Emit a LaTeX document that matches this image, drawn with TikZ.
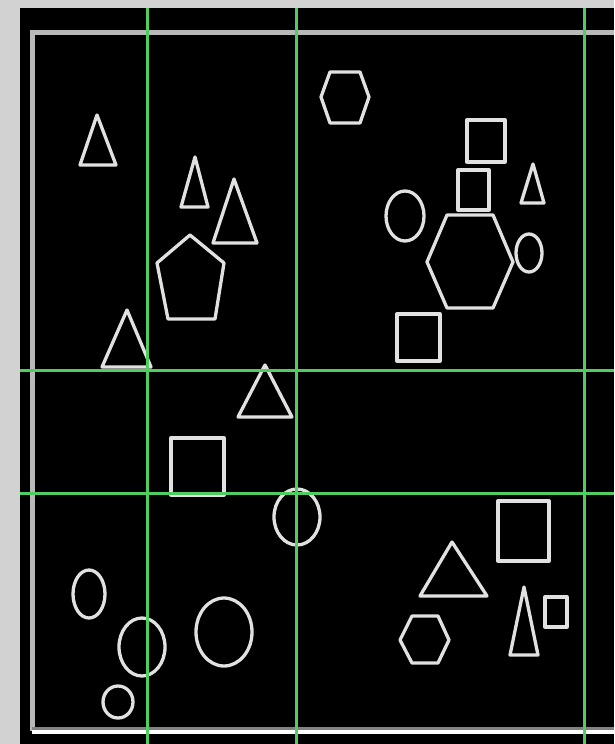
\documentclass[tikz,border=0pt]{standalone}
\definecolor{bggray}{RGB}{210,210,210}
\definecolor{framegray}{RGB}{185,185,185}
\definecolor{shapewhite}{RGB}{225,225,225}
\definecolor{gridgreen}{RGB}{80,205,95}
\begin{document}
\begin{tikzpicture}[x=1pt,y=-1pt,
  shp/.style={draw=shapewhite, line width=3.3pt, line join=round},
  gridline/.style={draw=gridgreen, line width=3pt}]
\useasboundingbox (0,0) rectangle (614,744);
\fill[bggray] (0,0) rectangle (614,744);
\fill[black] (20,8) rectangle (614,744);
% frame
\draw[framegray, line width=5pt] (614,32) -- (32,32) -- (32,731);
\draw[framegray!70!black, line width=6pt] (32,729.5) -- (614,729.5);
\draw[white, line width=4pt] (32,731.5) -- (614,731.5);
% triangles
\draw[shp] (97,115) -- (80,165) -- (116,165) -- cycle;
\draw[shp] (195,157) -- (181,207) -- (208,207) -- cycle;
\draw[shp] (234,179) -- (213,243) -- (257,243) -- cycle;
\draw[shp] (127,310) -- (102,367) -- (151,367) -- cycle;
\draw[shp] (265,365) -- (238,417) -- (292,417) -- cycle;
\draw[shp] (533,164) -- (521,203) -- (544,203) -- cycle;
\draw[shp] (452,542) -- (420,596) -- (487,596) -- cycle;
\draw[shp] (524,587) -- (510,655) -- (538,655) -- cycle;
% pentagon
\draw[shp] (190,235) -- (224,263) -- (215,319) -- (168,319) -- (157,263) -- cycle;
% hexagons
\draw[shp] (330,72) -- (360,72) -- (369,97) -- (360,123) -- (330,123) -- (321,97) -- cycle;
\draw[shp] (447,215) -- (493,215) -- (513,262) -- (493,308) -- (447,308) -- (427,262) -- cycle;
\draw[shp] (412,616) -- (438,616) -- (449,640) -- (438,663) -- (412,663) -- (400,640) -- cycle;
% squares
\draw[shp] (467,120) rectangle (505,162);
\draw[shp] (458,170) rectangle (489,210);
\draw[shp] (397,314) rectangle (440,361);
\draw[shp] (171,438) rectangle (224,495);
\draw[shp] (498,501) rectangle (549,561);
\draw[shp] (545,597) rectangle (567,627);
% ellipses
\draw[shp] (405,216) ellipse [x radius=19, y radius=25];
\draw[shp] (529,253) ellipse [x radius=13, y radius=19];
\draw[shp] (297,517) ellipse [x radius=23, y radius=28];
\draw[shp] (89,594) ellipse [x radius=16, y radius=24];
\draw[shp] (142,647) ellipse [x radius=23, y radius=29];
\draw[shp] (224,632) ellipse [x radius=28, y radius=34];
\draw[shp] (118,702) ellipse [x radius=15, y radius=16];
% green grid
\draw[gridline] (147,8) -- (147,744);
\draw[gridline] (296,8) -- (296,744);
\draw[gridline] (584,8) -- (584,744);
\draw[gridline] (20,370) -- (614,370);
\draw[gridline] (20,493) -- (614,493);
\end{tikzpicture}
\end{document}
